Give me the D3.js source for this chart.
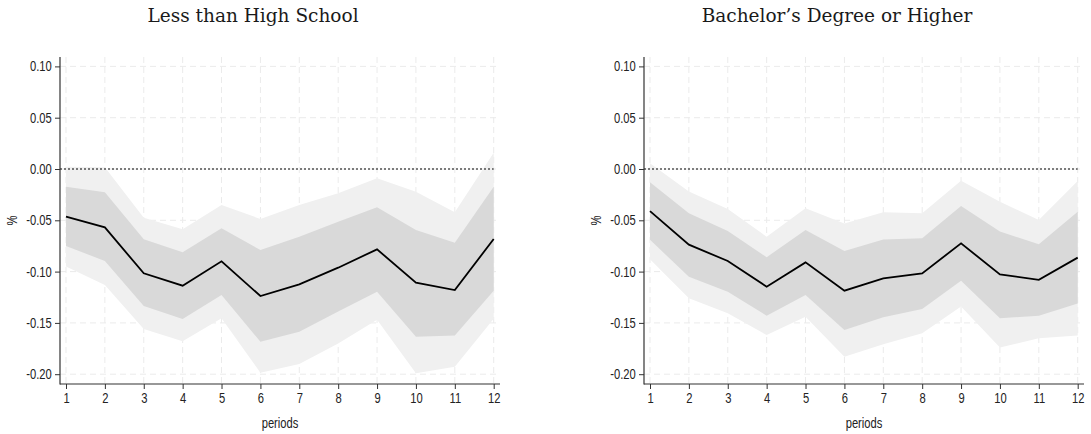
<!DOCTYPE html>
<html>
<head>
<meta charset="utf-8">
<script src="https://cdn.jsdelivr.net/npm/d3@7"></script>
<style>
  body { margin: 0; background: #fff; }
</style>
</head>
<body>
<svg id="chart" width="1091" height="434"></svg>
<script>
const periods = [1, 2, 3, 4, 5, 6, 7, 8, 9, 10, 11, 12];
const yTicks = [0.10, 0.05, 0.00, -0.05, -0.10, -0.15, -0.20];

// Less than High School
const lhsEst  = [-0.0465, -0.0569, -0.1017, -0.1137, -0.0900, -0.1238, -0.1124, -0.0962, -0.0783, -0.1108, -0.1180, -0.0682];
const lhsHi68 = [-0.0172, -0.0227, -0.0685, -0.0812, -0.0578, -0.0790, -0.0660, -0.0513, -0.0374, -0.0595, -0.0718, -0.0172];
const lhsLo68 = [-0.0750, -0.0897, -0.1335, -0.1462, -0.1228, -0.1683, -0.1586, -0.1390, -0.1196, -0.1634, -0.1624, -0.1186];
const lhsHi90 = [0.0023, 0.0017, -0.0474, -0.0588, -0.0350, -0.0487, -0.0350, -0.0237, -0.0091, -0.0221, -0.0422, 0.0159];
const lhsLo90 = [-0.0950, -0.1130, -0.1560, -0.1680, -0.1455, -0.1985, -0.1900, -0.1700, -0.1470, -0.1990, -0.1927, -0.1460];

// Bachelor's Degree or Higher
const bacEst  = [-0.0410, -0.0737, -0.0897, -0.1147, -0.0910, -0.1186, -0.1066, -0.1017, -0.0725, -0.1027, -0.1080, -0.0864];
const bacHi68 = [-0.0130, -0.0432, -0.0605, -0.0860, -0.0595, -0.0800, -0.0686, -0.0676, -0.0360, -0.0610, -0.0734, -0.0416];
const bacLo68 = [-0.0690, -0.1050, -0.1196, -0.1430, -0.1228, -0.1570, -0.1446, -0.1365, -0.1088, -0.1455, -0.1430, -0.1310];
const bacHi90 = [0.0055, -0.0220, -0.0390, -0.0660, -0.0383, -0.0530, -0.0422, -0.0432, -0.0114, -0.0318, -0.0497, -0.0117];
const bacLo90 = [-0.0880, -0.1260, -0.1407, -0.1618, -0.1440, -0.1830, -0.1709, -0.1600, -0.1340, -0.1740, -0.1650, -0.1624];

const svg = d3.select("#chart");

const x = d3.scaleLinear().domain([1, 12]).range([66, 493.7]);
const y = d3.scaleLinear().domain([0.10, -0.20]).range([66.4, 374.2]);

const plotLeft = 60, plotRight = 500, plotTop = 57, plotBottom = 384;
const narrow = 0.8; // squeeze Liberation Sans to look like Arial Narrow
const sansFont = "'Liberation Sans', Arial, sans-serif";

function drawPanel(offset, title, est, lo68, hi68, lo90, hi90) {
    const g = svg.append("g").attr("transform", `translate(${offset},0)`);

    //grid
    g.selectAll("line.vgrid")
        .data(periods)
        .enter()
        .append("line")
        .attr("x1", d => x(d)).attr("x2", d => x(d))
        .attr("y1", plotTop).attr("y2", plotBottom)
        .attr("stroke", "#ebebeb")
        .attr("stroke-width", 1)
        .style("stroke-dasharray", "6,4");
    g.selectAll("line.hgrid")
        .data(yTicks)
        .enter()
        .append("line")
        .attr("x1", plotLeft).attr("x2", plotRight)
        .attr("y1", d => y(d)).attr("y2", d => y(d))
        .attr("stroke", "#ebebeb")
        .attr("stroke-width", 1)
        .style("stroke-dasharray", "6,4");

    //bands
    const band = (lo, hi) => d3.area()
        .x((d, i) => x(periods[i]))
        .y0((d, i) => y(lo[i]))
        .y1((d, i) => y(hi[i]))(periods);

    g.append("path").attr("d", band(lo90, hi90)).attr("fill", "#f0f0f0");
    g.append("path").attr("d", band(lo68, hi68)).attr("fill", "#d9d9d9");

    //zero line
    g.append("line")
        .attr("x1", plotLeft).attr("x2", x(12))
        .attr("y1", y(0)).attr("y2", y(0))
        .attr("stroke", "black")
        .attr("stroke-width", 1)
        .style("stroke-dasharray", "2,2");

    //estimate
    const line = d3.line()
        .x((d, i) => x(periods[i]))
        .y(d => y(d));
    g.append("path")
        .attr("d", line(est))
        .attr("fill", "none")
        .attr("stroke", "black")
        .attr("stroke-width", 1.8);

    //axes
    const xAxis = g.append("g")
        .attr("transform", `translate(0,${plotBottom})`)
        .call(d3.axisBottom(x).tickValues(periods).tickFormat(d3.format("d")).tickSize(5).tickPadding(4));
    const yAxis = g.append("g")
        .attr("transform", `translate(${plotLeft},0)`)
        .call(d3.axisLeft(y).tickValues(yTicks).tickFormat(d => d3.format(".2f")(d).replace("\u2212", "-")).tickSize(5).tickPadding(3));
    [xAxis, yAxis].forEach(a => {
        a.select(".domain").remove();
        a.selectAll(".tick line").attr("stroke", "#333");
        a.selectAll(".tick text")
            .attr("font-family", sansFont)
            .attr("font-size", 14)
            .attr("fill", "#222")
            .attr("transform", `scale(${narrow},1)`);
    });
    yAxis.selectAll(".tick text").attr("x", -8.3 / narrow);

    g.append("line").attr("x1", plotLeft).attr("x2", plotLeft).attr("y1", plotTop).attr("y2", plotBottom + 0.5)
        .attr("stroke", "#333").attr("stroke-width", 1.2);
    g.append("line").attr("x1", plotLeft).attr("x2", plotRight).attr("y1", plotBottom).attr("y2", plotBottom)
        .attr("stroke", "#333").attr("stroke-width", 1.2);

    //labels
    g.append("text")
        .attr("transform", `translate(${(plotLeft + plotRight) / 2},428) scale(${narrow},1)`)
        .attr("text-anchor", "middle")
        .attr("font-family", sansFont)
        .attr("font-size", 14)
        .attr("fill", "#222")
        .text("periods");
    g.append("text")
        .attr("transform", `translate(17,${(plotTop + plotBottom) / 2}) rotate(-90) scale(${narrow},1)`)
        .attr("text-anchor", "middle")
        .attr("font-family", sansFont)
        .attr("font-size", 14)
        .attr("fill", "#222")
        .text("%");
    g.append("text")
        .attr("x", 253)
        .attr("y", 22)
        .attr("text-anchor", "middle")
        .attr("font-family", "'DejaVu Serif', serif")
        .attr("font-size", 18.5)
        .attr("fill", "#1a1a1a")
        .text(title);
}

drawPanel(0, "Less than High School", lhsEst, lhsLo68, lhsHi68, lhsLo90, lhsHi90);
drawPanel(584, "Bachelor\u2019s Degree or Higher", bacEst, bacLo68, bacHi68, bacLo90, bacHi90);
</script>
</body>
</html>
